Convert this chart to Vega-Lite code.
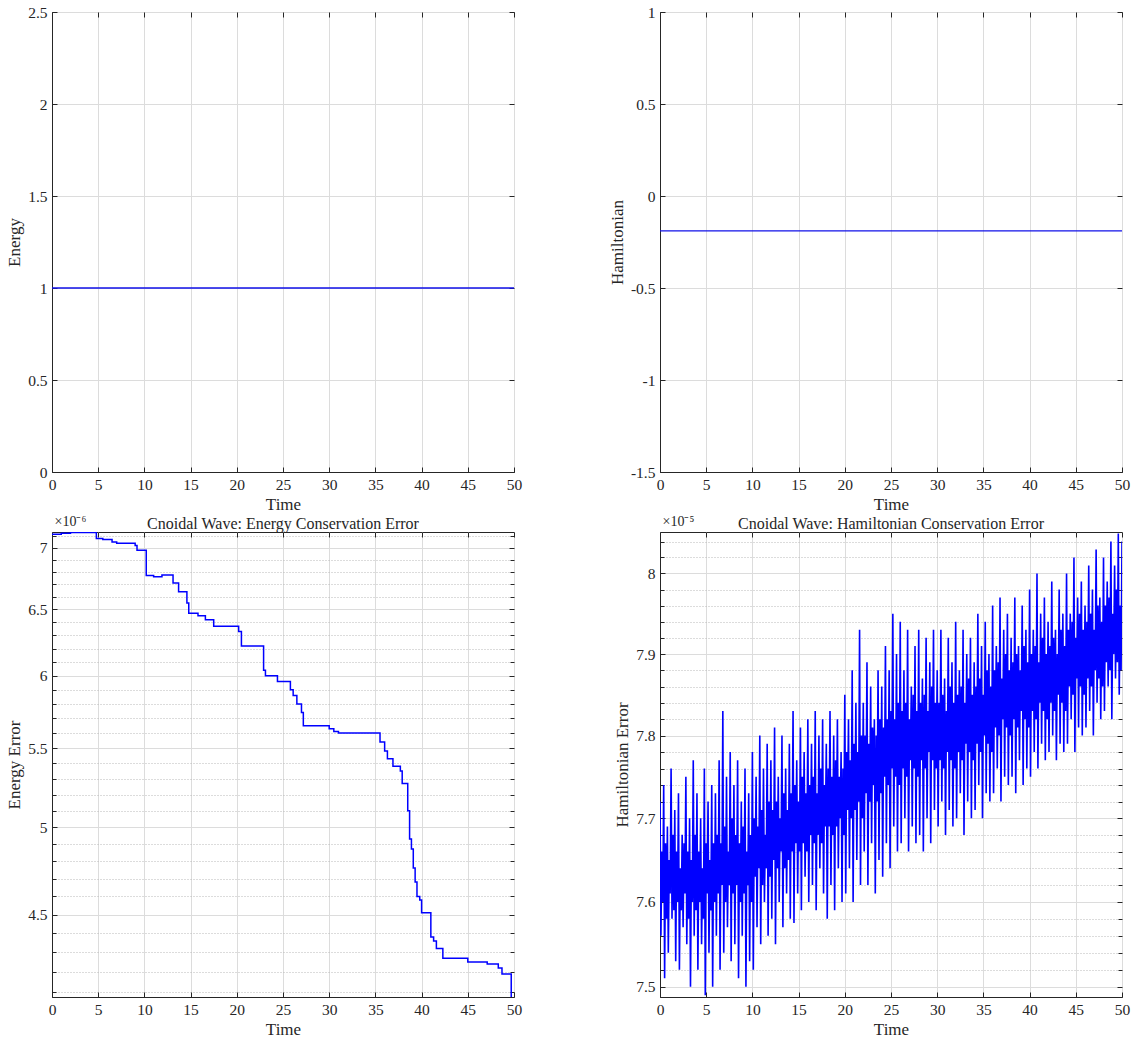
{
"$schema":"https://vega.github.io/schema/vega-lite/v6.json",
"padding":{"left":5,"top":4,"right":5,"bottom":5},
"config":{
 "font":"Liberation Serif",
 "view":{"stroke":"#262626","strokeWidth":1},
 "title":{"font":"Liberation Serif","fontSize":16,"fontWeight":"normal","color":"#262626","anchor":"middle","frame":"group","offset":-18},
 "axis":{"labelFont":"Liberation Serif","titleFont":"Liberation Serif","labelFontSize":15.5,"titleFontSize":17,"titleFontWeight":"normal","labelColor":"#262626","titleColor":"#262626","domainColor":"#262626","tickColor":"#262626","gridColor":"#dcdcdc","gridWidth":1,"tickSize":-5,"labelPadding":10,"titlePadding":4,"labelFlush":false,"labelOverlap":false}
},
"columns":2,
"spacing":{"row":60,"column":146},
"bounds":"flush",
"concat":[
{
 "width":462,"height":460,
 "data":{"values":[{"t":0,"E":1.0000071},{"t":5,"E":1.000007},{"t":10,"E":1.0000068},{"t":15,"E":1.0000065},{"t":20,"E":1.0000063},{"t":25,"E":1.0000059},{"t":30,"E":1.0000056},{"t":35,"E":1.0000056},{"t":40,"E":1.0000045},{"t":45,"E":1.0000043},{"t":50,"E":1.0000041}]},
 "layer":[
  {"mark":{"type":"line","color":"#1010e8","strokeWidth":1.5,"clip":true},
   "encoding":{
    "x":{"field":"t","type":"quantitative","scale":{"domain":[0,50],"nice":false},"axis":{"orient":"bottom","values":[0,5,10,15,20,25,30,35,40,45,50],"title":"Time","grid":true,"format":"d"}},
    "y":{"field":"E","type":"quantitative","scale":{"domain":[0,2.5],"nice":false,"zero":false},"axis":{"orient":"left","values":[0,0.5,1,1.5,2,2.5],"title":"Energy","grid":true,"labelExpr":"format(datum.value,'~g')"}}}},
  {"mark":{"type":"line","opacity":0},
   "encoding":{
    "x":{"field":"t","type":"quantitative","scale":{"domain":[0,50],"nice":false},"axis":{"orient":"top","values":[0,5,10,15,20,25,30,35,40,45,50],"labels":false,"title":null,"grid":false,"domain":false}},
    "y":{"field":"E","type":"quantitative","scale":{"domain":[0,2.5],"nice":false,"zero":false},"axis":{"orient":"right","values":[0,0.5,1,1.5,2,2.5],"labels":false,"title":null,"grid":false,"domain":false}}}}
 ],
 "resolve":{"scale":{"x":"independent","y":"independent"},"axis":{"x":"independent","y":"independent"}}
},
{
 "width":462,"height":460,
 "data":{"values":[{"t":0,"H":-0.19},{"t":5,"H":-0.19},{"t":10,"H":-0.19},{"t":15,"H":-0.19},{"t":20,"H":-0.19},{"t":25,"H":-0.19},{"t":30,"H":-0.19},{"t":35,"H":-0.19},{"t":40,"H":-0.19},{"t":45,"H":-0.19},{"t":50,"H":-0.19}]},
 "layer":[
  {"mark":{"type":"line","color":"#1010e8","strokeWidth":1.3,"clip":true},
   "encoding":{
    "x":{"field":"t","type":"quantitative","scale":{"domain":[0,50],"nice":false},"axis":{"orient":"bottom","values":[0,5,10,15,20,25,30,35,40,45,50],"title":"Time","grid":true,"format":"d"}},
    "y":{"field":"H","type":"quantitative","scale":{"domain":[-1.5,1],"nice":false,"zero":false},"axis":{"orient":"left","values":[-1.5,-1,-0.5,0,0.5,1],"title":"Hamiltonian","grid":true,"labelExpr":"replace(format(datum.value,'~g'),'−','-')"}}}},
  {"mark":{"type":"line","opacity":0},
   "encoding":{
    "x":{"field":"t","type":"quantitative","scale":{"domain":[0,50],"nice":false},"axis":{"orient":"top","values":[0,5,10,15,20,25,30,35,40,45,50],"labels":false,"title":null,"grid":false,"domain":false}},
    "y":{"field":"H","type":"quantitative","scale":{"domain":[-1.5,1],"nice":false,"zero":false},"axis":{"orient":"right","values":[-1.5,-1,-0.5,0,0.5,1],"labels":false,"title":null,"grid":false,"domain":false}}}}
 ],
 "resolve":{"scale":{"x":"independent","y":"independent"},"axis":{"x":"independent","y":"independent"}}
},
{
 "width":462,"height":465,
 "title":"Cnoidal Wave: Energy Conservation Error",
 "data":{"values":[
  {"t":0,"e":7.115e-6},{"t":1.0,"e":7.125e-6},{"t":2.0,"e":7.13e-6},{"t":4.8,"e":7.08e-6},{"t":5.5,"e":7.07e-6},{"t":6.5,"e":7.05e-6},{"t":7.0,"e":7.04e-6},{"t":9.0,"e":7.02e-6},{"t":9.2,"e":6.98e-6},{"t":10.2,"e":6.77e-6},{"t":11.0,"e":6.76e-6},{"t":11.9,"e":6.775e-6},{"t":13.1,"e":6.71e-6},{"t":13.7,"e":6.64e-6},{"t":14.6,"e":6.55e-6},{"t":14.8,"e":6.47e-6},{"t":15.8,"e":6.45e-6},{"t":16.6,"e":6.42e-6},{"t":17.5,"e":6.37e-6},{"t":20.2,"e":6.33e-6},{"t":20.5,"e":6.22e-6},{"t":22.9,"e":6.04e-6},{"t":23.1,"e":6.0e-6},{"t":24.4,"e":5.96e-6},{"t":25.8,"e":5.9e-6},{"t":26.1,"e":5.86e-6},{"t":26.5,"e":5.8e-6},{"t":27.0,"e":5.74e-6},{"t":27.2,"e":5.65e-6},{"t":30.0,"e":5.63e-6},{"t":30.5,"e":5.61e-6},{"t":31.0,"e":5.6e-6},{"t":35.5,"e":5.54e-6},{"t":36.0,"e":5.48e-6},{"t":36.3,"e":5.43e-6},{"t":36.9,"e":5.38e-6},{"t":37.7,"e":5.35e-6},{"t":37.9,"e":5.27e-6},{"t":38.5,"e":5.1e-6},{"t":38.7,"e":4.93e-6},{"t":38.9,"e":4.87e-6},{"t":39.1,"e":4.76e-6},{"t":39.3,"e":4.68e-6},{"t":39.5,"e":4.6e-6},{"t":39.8,"e":4.58e-6},{"t":40.0,"e":4.51e-6},{"t":41.0,"e":4.38e-6},{"t":41.3,"e":4.36e-6},{"t":41.6,"e":4.32e-6},{"t":42.3,"e":4.27e-6},{"t":45.0,"e":4.25e-6},{"t":47.1,"e":4.24e-6},{"t":48.3,"e":4.22e-6},{"t":48.7,"e":4.19e-6},{"t":49.7,"e":4.07e-6},{"t":50,"e":4.07e-6}
 ]},
 "layer":[
  {"mark":{"type":"line","color":"#0000ff","strokeWidth":1.5,"interpolate":"step-after","clip":true},
   "encoding":{
    "x":{"field":"t","type":"quantitative","scale":{"domain":[0,50],"nice":false},"axis":{"orient":"bottom","values":[0,5,10,15,20,25,30,35,40,45,50],"title":"Time","grid":true,"format":"d"}},
    "y":{"field":"e","type":"quantitative","scale":{"type":"log","domain":[4.075e-6,7.135e-6],"nice":false},"axis":{"orient":"left","values":[4.5e-6,5e-6,5.5e-6,6e-6,6.5e-6,7e-6],"title":"Energy Error","grid":true,"labelExpr":"format(datum.value*1e6,'.2~f')"}}}},
  {"mark":{"type":"line","opacity":0},
   "encoding":{
    "x":{"field":"t","type":"quantitative","scale":{"domain":[0,50],"nice":false},"axis":{"orient":"top","values":[0,5,10,15,20,25,30,35,40,45,50],"labels":false,"title":null,"grid":false,"domain":false}},
    "y":{"field":"e","type":"quantitative","scale":{"type":"log","domain":[4.075e-6,7.135e-6],"nice":false},"axis":{"orient":"right","values":[4.5e-6,5e-6,5.5e-6,6e-6,6.5e-6,7e-6],"labels":false,"title":null,"grid":false,"domain":false}}}},
  {"mark":{"type":"line","opacity":0},
   "encoding":{
    "x":{"field":"t","type":"quantitative","scale":{"domain":[0,50],"nice":false},"axis":null},
    "y":{"field":"e","type":"quantitative","scale":{"type":"log","domain":[4.075e-6,7.135e-6],"nice":false},"axis":{"orient":"left","values":[4.1e-6,4.2e-6,4.3e-6,4.4e-6,4.6e-6,4.7e-6,4.8e-6,4.9e-6,5.1e-6,5.2e-6,5.3e-6,5.4e-6,5.6e-6,5.7e-6,5.8e-6,5.9e-6,6.1e-6,6.2e-6,6.3e-6,6.4e-6,6.6e-6,6.7e-6,6.8e-6,6.9e-6,7.1e-6],"labels":false,"domain":false,"tickSize":-4,"grid":true,"gridDash":[1,2],"gridColor":"#b8b8b8","title":"×10⁻⁶","titleAngle":0,"titleX":2,"titleY":-7,"titleAlign":"left","titleBaseline":"alphabetic","titleFontSize":14}}}},
  {"mark":{"type":"line","opacity":0},
   "encoding":{
    "x":{"field":"t","type":"quantitative","scale":{"domain":[0,50],"nice":false},"axis":null},
    "y":{"field":"e","type":"quantitative","scale":{"type":"log","domain":[4.075e-6,7.135e-6],"nice":false},"axis":{"orient":"right","values":[4.1e-6,4.2e-6,4.3e-6,4.4e-6,4.6e-6,4.7e-6,4.8e-6,4.9e-6,5.1e-6,5.2e-6,5.3e-6,5.4e-6,5.6e-6,5.7e-6,5.8e-6,5.9e-6,6.1e-6,6.2e-6,6.3e-6,6.4e-6,6.6e-6,6.7e-6,6.8e-6,6.9e-6,7.1e-6],"labels":false,"domain":false,"tickSize":-4,"grid":false,"title":null}}}}
 ],
 "resolve":{"scale":{"x":"independent","y":"independent"},"axis":{"x":"independent","y":"independent"}}
},
{
 "width":462,"height":465,
 "title":"Cnoidal Wave: Hamiltonian Conservation Error",
 "data":{"values":[
{"t":0,"h":7.72e-5},{"t":0.1,"h":7.56e-5},{"t":0.2,"h":7.66e-5},{"t":0.3,"h":7.60e-5},
{"t":0.4,"h":7.74e-5},{"t":0.5,"h":7.51e-5},{"t":0.6,"h":7.67e-5},{"t":0.7,"h":7.58e-5},
{"t":0.8,"h":7.69e-5},{"t":0.9,"h":7.54e-5},{"t":1.0,"h":7.65e-5},{"t":1.1,"h":7.61e-5},
{"t":1.2,"h":7.76e-5},{"t":1.3,"h":7.58e-5},{"t":1.4,"h":7.68e-5},{"t":1.5,"h":7.59e-5},
{"t":1.6,"h":7.71e-5},{"t":1.7,"h":7.53e-5},{"t":1.8,"h":7.66e-5},{"t":1.9,"h":7.60e-5},
{"t":2.0,"h":7.73e-5},{"t":2.1,"h":7.52e-5},{"t":2.2,"h":7.64e-5},{"t":2.3,"h":7.59e-5},
{"t":2.4,"h":7.68e-5},{"t":2.5,"h":7.57e-5},{"t":2.6,"h":7.67e-5},{"t":2.7,"h":7.61e-5},
{"t":2.8,"h":7.75e-5},{"t":2.9,"h":7.55e-5},{"t":3.0,"h":7.66e-5},{"t":3.1,"h":7.58e-5},
{"t":3.2,"h":7.70e-5},{"t":3.3,"h":7.50e-5},{"t":3.4,"h":7.65e-5},{"t":3.5,"h":7.60e-5},
{"t":3.6,"h":7.77e-5},{"t":3.7,"h":7.56e-5},{"t":3.8,"h":7.68e-5},{"t":3.9,"h":7.59e-5},
{"t":4.0,"h":7.73e-5},{"t":4.1,"h":7.52e-5},{"t":4.2,"h":7.66e-5},{"t":4.3,"h":7.60e-5},
{"t":4.4,"h":7.70e-5},{"t":4.5,"h":7.55e-5},{"t":4.6,"h":7.64e-5},{"t":4.7,"h":7.58e-5},
{"t":4.8,"h":7.76e-5},{"t":4.9,"h":7.49e-5},{"t":5.0,"h":7.67e-5},{"t":5.1,"h":7.61e-5},
{"t":5.2,"h":7.72e-5},{"t":5.3,"h":7.54e-5},{"t":5.4,"h":7.65e-5},{"t":5.5,"h":7.59e-5},
{"t":5.6,"h":7.74e-5},{"t":5.7,"h":7.50e-5},{"t":5.8,"h":7.67e-5},{"t":5.9,"h":7.60e-5},
{"t":6.0,"h":7.73e-5},{"t":6.1,"h":7.56e-5},{"t":6.2,"h":7.68e-5},{"t":6.3,"h":7.61e-5},
{"t":6.4,"h":7.77e-5},{"t":6.5,"h":7.52e-5},{"t":6.6,"h":7.67e-5},{"t":6.7,"h":7.62e-5},
{"t":6.8,"h":7.83e-5},{"t":6.9,"h":7.54e-5},{"t":7.0,"h":7.69e-5},{"t":7.1,"h":7.60e-5},
{"t":7.2,"h":7.75e-5},{"t":7.3,"h":7.57e-5},{"t":7.4,"h":7.66e-5},{"t":7.5,"h":7.62e-5},
{"t":7.6,"h":7.78e-5},{"t":7.7,"h":7.53e-5},{"t":7.8,"h":7.70e-5},{"t":7.9,"h":7.61e-5},
{"t":8.0,"h":7.74e-5},{"t":8.1,"h":7.55e-5},{"t":8.2,"h":7.68e-5},{"t":8.3,"h":7.62e-5},
{"t":8.4,"h":7.77e-5},{"t":8.5,"h":7.51e-5},{"t":8.6,"h":7.67e-5},{"t":8.7,"h":7.60e-5},
{"t":8.8,"h":7.72e-5},{"t":8.9,"h":7.56e-5},{"t":9.0,"h":7.69e-5},{"t":9.1,"h":7.61e-5},
{"t":9.2,"h":7.76e-5},{"t":9.3,"h":7.50e-5},{"t":9.4,"h":7.66e-5},{"t":9.5,"h":7.62e-5},
{"t":9.6,"h":7.73e-5},{"t":9.7,"h":7.53e-5},{"t":9.8,"h":7.68e-5},{"t":9.9,"h":7.60e-5},
{"t":10.0,"h":7.78e-5},{"t":10.1,"h":7.52e-5},{"t":10.2,"h":7.70e-5},{"t":10.3,"h":7.63e-5},
{"t":10.4,"h":7.75e-5},{"t":10.5,"h":7.57e-5},{"t":10.6,"h":7.69e-5},{"t":10.7,"h":7.64e-5},
{"t":10.8,"h":7.80e-5},{"t":10.9,"h":7.55e-5},{"t":11.0,"h":7.71e-5},{"t":11.1,"h":7.62e-5},
{"t":11.2,"h":7.76e-5},{"t":11.3,"h":7.60e-5},{"t":11.4,"h":7.68e-5},{"t":11.5,"h":7.64e-5},
{"t":11.6,"h":7.79e-5},{"t":11.7,"h":7.56e-5},{"t":11.8,"h":7.72e-5},{"t":11.9,"h":7.63e-5},
{"t":12.0,"h":7.77e-5},{"t":12.1,"h":7.58e-5},{"t":12.2,"h":7.71e-5},{"t":12.3,"h":7.65e-5},
{"t":12.4,"h":7.81e-5},{"t":12.5,"h":7.55e-5},{"t":12.6,"h":7.72e-5},{"t":12.7,"h":7.64e-5},
{"t":12.8,"h":7.75e-5},{"t":12.9,"h":7.60e-5},{"t":13.0,"h":7.70e-5},{"t":13.1,"h":7.66e-5},
{"t":13.2,"h":7.80e-5},{"t":13.3,"h":7.57e-5},{"t":13.4,"h":7.73e-5},{"t":13.5,"h":7.64e-5},
{"t":13.6,"h":7.76e-5},{"t":13.7,"h":7.61e-5},{"t":13.8,"h":7.71e-5},{"t":13.9,"h":7.65e-5},
{"t":14.0,"h":7.79e-5},{"t":14.1,"h":7.58e-5},{"t":14.2,"h":7.73e-5},{"t":14.3,"h":7.66e-5},
{"t":14.4,"h":7.83e-5},{"t":14.5,"h":7.575e-5},{"t":14.6,"h":7.74e-5},{"t":14.7,"h":7.67e-5},
{"t":14.8,"h":7.77e-5},{"t":14.9,"h":7.61e-5},{"t":15.0,"h":7.72e-5},{"t":15.1,"h":7.66e-5},
{"t":15.2,"h":7.81e-5},{"t":15.3,"h":7.59e-5},{"t":15.4,"h":7.75e-5},{"t":15.5,"h":7.67e-5},
{"t":15.6,"h":7.78e-5},{"t":15.7,"h":7.63e-5},{"t":15.8,"h":7.73e-5},{"t":15.9,"h":7.66e-5},
{"t":16.0,"h":7.82e-5},{"t":16.1,"h":7.60e-5},{"t":16.2,"h":7.74e-5},{"t":16.3,"h":7.68e-5},
{"t":16.4,"h":7.79e-5},{"t":16.5,"h":7.62e-5},{"t":16.6,"h":7.75e-5},{"t":16.7,"h":7.67e-5},
{"t":16.8,"h":7.83e-5},{"t":16.9,"h":7.59e-5},{"t":17.0,"h":7.73e-5},{"t":17.1,"h":7.68e-5},
{"t":17.2,"h":7.80e-5},{"t":17.3,"h":7.64e-5},{"t":17.4,"h":7.76e-5},{"t":17.5,"h":7.67e-5},
{"t":17.6,"h":7.82e-5},{"t":17.7,"h":7.61e-5},{"t":17.8,"h":7.74e-5},{"t":17.9,"h":7.69e-5},
{"t":18.0,"h":7.79e-5},{"t":18.1,"h":7.58e-5},{"t":18.2,"h":7.76e-5},{"t":18.3,"h":7.69e-5},
{"t":18.4,"h":7.83e-5},{"t":18.5,"h":7.62e-5},{"t":18.6,"h":7.75e-5},{"t":18.7,"h":7.68e-5},
{"t":18.8,"h":7.80e-5},{"t":18.9,"h":7.59e-5},{"t":19.0,"h":7.77e-5},{"t":19.1,"h":7.69e-5},
{"t":19.2,"h":7.82e-5},{"t":19.3,"h":7.64e-5},{"t":19.4,"h":7.75e-5},{"t":19.5,"h":7.70e-5},
{"t":19.6,"h":7.78e-5},{"t":19.7,"h":7.60e-5},{"t":19.8,"h":7.76e-5},{"t":19.9,"h":7.68e-5},
{"t":20.0,"h":7.85e-5},{"t":20.1,"h":7.61e-5},{"t":20.2,"h":7.78e-5},{"t":20.3,"h":7.71e-5},
{"t":20.4,"h":7.82e-5},{"t":20.5,"h":7.64e-5},{"t":20.6,"h":7.77e-5},{"t":20.7,"h":7.70e-5},
{"t":20.8,"h":7.88e-5},{"t":20.9,"h":7.60e-5},{"t":21.0,"h":7.79e-5},{"t":21.1,"h":7.71e-5},
{"t":21.2,"h":7.84e-5},{"t":21.3,"h":7.65e-5},{"t":21.4,"h":7.78e-5},{"t":21.5,"h":7.72e-5},
{"t":21.6,"h":7.93e-5},{"t":21.7,"h":7.62e-5},{"t":21.8,"h":7.80e-5},{"t":21.9,"h":7.70e-5},
{"t":22.0,"h":7.84e-5},{"t":22.1,"h":7.66e-5},{"t":22.2,"h":7.80e-5},{"t":22.3,"h":7.73e-5},
{"t":22.4,"h":7.89e-5},{"t":22.5,"h":7.62e-5},{"t":22.6,"h":7.79e-5},{"t":22.7,"h":7.72e-5},
{"t":22.8,"h":7.86e-5},{"t":22.9,"h":7.67e-5},{"t":23.0,"h":7.81e-5},{"t":23.1,"h":7.74e-5},
{"t":23.2,"h":7.82e-5},{"t":23.3,"h":7.61e-5},{"t":23.4,"h":7.80e-5},{"t":23.5,"h":7.72e-5},
{"t":23.6,"h":7.88e-5},{"t":23.7,"h":7.65e-5},{"t":23.8,"h":7.82e-5},{"t":23.9,"h":7.73e-5},
{"t":24.0,"h":7.86e-5},{"t":24.1,"h":7.63e-5},{"t":24.2,"h":7.81e-5},{"t":24.3,"h":7.75e-5},
{"t":24.4,"h":7.91e-5},{"t":24.5,"h":7.67e-5},{"t":24.6,"h":7.82e-5},{"t":24.7,"h":7.74e-5},
{"t":24.8,"h":7.88e-5},{"t":24.9,"h":7.64e-5},{"t":25.0,"h":7.83e-5},{"t":25.1,"h":7.76e-5},
{"t":25.2,"h":7.95e-5},{"t":25.3,"h":7.69e-5},{"t":25.4,"h":7.82e-5},{"t":25.5,"h":7.75e-5},
{"t":25.6,"h":7.90e-5},{"t":25.7,"h":7.66e-5},{"t":25.8,"h":7.84e-5},{"t":25.9,"h":7.74e-5},
{"t":26.0,"h":7.94e-5},{"t":26.1,"h":7.67e-5},{"t":26.2,"h":7.83e-5},{"t":26.3,"h":7.76e-5},
{"t":26.4,"h":7.88e-5},{"t":26.5,"h":7.70e-5},{"t":26.6,"h":7.84e-5},{"t":26.7,"h":7.75e-5},
{"t":26.8,"h":7.93e-5},{"t":26.9,"h":7.66e-5},{"t":27.0,"h":7.82e-5},{"t":27.1,"h":7.77e-5},
{"t":27.2,"h":7.86e-5},{"t":27.3,"h":7.69e-5},{"t":27.4,"h":7.85e-5},{"t":27.5,"h":7.76e-5},
{"t":27.6,"h":7.91e-5},{"t":27.7,"h":7.67e-5},{"t":27.8,"h":7.83e-5},{"t":27.9,"h":7.75e-5},
{"t":28.0,"h":7.93e-5},{"t":28.1,"h":7.68e-5},{"t":28.2,"h":7.84e-5},{"t":28.3,"h":7.77e-5},
{"t":28.4,"h":7.87e-5},{"t":28.5,"h":7.66e-5},{"t":28.6,"h":7.85e-5},{"t":28.7,"h":7.76e-5},
{"t":28.8,"h":7.92e-5},{"t":28.9,"h":7.70e-5},{"t":29.0,"h":7.83e-5},{"t":29.1,"h":7.78e-5},
{"t":29.2,"h":7.89e-5},{"t":29.3,"h":7.67e-5},{"t":29.4,"h":7.86e-5},{"t":29.5,"h":7.77e-5},
{"t":29.6,"h":7.93e-5},{"t":29.7,"h":7.71e-5},{"t":29.8,"h":7.84e-5},{"t":29.9,"h":7.76e-5},
{"t":30.0,"h":7.88e-5},{"t":30.1,"h":7.69e-5},{"t":30.2,"h":7.84e-5},{"t":30.3,"h":7.77e-5},
{"t":30.4,"h":7.93e-5},{"t":30.5,"h":7.72e-5},{"t":30.6,"h":7.85e-5},{"t":30.7,"h":7.76e-5},
{"t":30.8,"h":7.87e-5},{"t":30.9,"h":7.68e-5},{"t":31.0,"h":7.83e-5},{"t":31.1,"h":7.78e-5},
{"t":31.2,"h":7.92e-5},{"t":31.3,"h":7.71e-5},{"t":31.4,"h":7.86e-5},{"t":31.5,"h":7.77e-5},
{"t":31.6,"h":7.89e-5},{"t":31.7,"h":7.69e-5},{"t":31.8,"h":7.84e-5},{"t":31.9,"h":7.76e-5},
{"t":32.0,"h":7.94e-5},{"t":32.1,"h":7.70e-5},{"t":32.2,"h":7.85e-5},{"t":32.3,"h":7.78e-5},
{"t":32.4,"h":7.88e-5},{"t":32.5,"h":7.73e-5},{"t":32.6,"h":7.86e-5},{"t":32.7,"h":7.77e-5},
{"t":32.8,"h":7.93e-5},{"t":32.9,"h":7.68e-5},{"t":33.0,"h":7.84e-5},{"t":33.1,"h":7.79e-5},
{"t":33.2,"h":7.90e-5},{"t":33.3,"h":7.72e-5},{"t":33.4,"h":7.87e-5},{"t":33.5,"h":7.78e-5},
{"t":33.6,"h":7.92e-5},{"t":33.7,"h":7.70e-5},{"t":33.8,"h":7.85e-5},{"t":33.9,"h":7.77e-5},
{"t":34.0,"h":7.89e-5},{"t":34.1,"h":7.71e-5},{"t":34.2,"h":7.86e-5},{"t":34.3,"h":7.79e-5},
{"t":34.4,"h":7.95e-5},{"t":34.5,"h":7.74e-5},{"t":34.6,"h":7.87e-5},{"t":34.7,"h":7.78e-5},
{"t":34.8,"h":7.91e-5},{"t":34.9,"h":7.70e-5},{"t":35.0,"h":7.85e-5},{"t":35.1,"h":7.80e-5},
{"t":35.2,"h":7.94e-5},{"t":35.3,"h":7.73e-5},{"t":35.4,"h":7.88e-5},{"t":35.5,"h":7.79e-5},
{"t":35.6,"h":7.90e-5},{"t":35.7,"h":7.72e-5},{"t":35.8,"h":7.86e-5},{"t":35.9,"h":7.78e-5},
{"t":36.0,"h":7.96e-5},{"t":36.1,"h":7.73e-5},{"t":36.2,"h":7.88e-5},{"t":36.3,"h":7.81e-5},
{"t":36.4,"h":7.91e-5},{"t":36.5,"h":7.76e-5},{"t":36.6,"h":7.89e-5},{"t":36.7,"h":7.80e-5},
{"t":36.8,"h":7.97e-5},{"t":36.9,"h":7.72e-5},{"t":37.0,"h":7.87e-5},{"t":37.1,"h":7.82e-5},
{"t":37.2,"h":7.93e-5},{"t":37.3,"h":7.75e-5},{"t":37.4,"h":7.90e-5},{"t":37.5,"h":7.81e-5},
{"t":37.6,"h":7.95e-5},{"t":37.7,"h":7.74e-5},{"t":37.8,"h":7.88e-5},{"t":37.9,"h":7.80e-5},
{"t":38.0,"h":7.92e-5},{"t":38.1,"h":7.75e-5},{"t":38.2,"h":7.89e-5},{"t":38.3,"h":7.82e-5},
{"t":38.4,"h":7.97e-5},{"t":38.5,"h":7.73e-5},{"t":38.6,"h":7.90e-5},{"t":38.7,"h":7.81e-5},
{"t":38.8,"h":7.91e-5},{"t":38.9,"h":7.77e-5},{"t":39.0,"h":7.88e-5},{"t":39.1,"h":7.83e-5},
{"t":39.2,"h":7.96e-5},{"t":39.3,"h":7.74e-5},{"t":39.4,"h":7.91e-5},{"t":39.5,"h":7.82e-5},
{"t":39.6,"h":7.93e-5},{"t":39.7,"h":7.76e-5},{"t":39.8,"h":7.89e-5},{"t":39.9,"h":7.81e-5},
{"t":40.0,"h":7.98e-5},{"t":40.1,"h":7.75e-5},{"t":40.2,"h":7.90e-5},{"t":40.3,"h":7.83e-5},
{"t":40.4,"h":7.93e-5},{"t":40.5,"h":7.78e-5},{"t":40.6,"h":7.91e-5},{"t":40.7,"h":7.82e-5},
{"t":40.8,"h":8.00e-5},{"t":40.9,"h":7.76e-5},{"t":41.0,"h":7.89e-5},{"t":41.1,"h":7.84e-5},
{"t":41.2,"h":7.95e-5},{"t":41.3,"h":7.79e-5},{"t":41.4,"h":7.92e-5},{"t":41.5,"h":7.83e-5},
{"t":41.6,"h":7.97e-5},{"t":41.7,"h":7.77e-5},{"t":41.8,"h":7.90e-5},{"t":41.9,"h":7.82e-5},
{"t":42.0,"h":7.94e-5},{"t":42.1,"h":7.78e-5},{"t":42.2,"h":7.91e-5},{"t":42.3,"h":7.84e-5},
{"t":42.4,"h":7.99e-5},{"t":42.5,"h":7.80e-5},{"t":42.6,"h":7.92e-5},{"t":42.7,"h":7.83e-5},
{"t":42.8,"h":7.93e-5},{"t":42.9,"h":7.77e-5},{"t":43.0,"h":7.90e-5},{"t":43.1,"h":7.85e-5},
{"t":43.2,"h":7.98e-5},{"t":43.3,"h":7.79e-5},{"t":43.4,"h":7.93e-5},{"t":43.5,"h":7.84e-5},
{"t":43.6,"h":7.95e-5},{"t":43.7,"h":7.78e-5},{"t":43.8,"h":7.91e-5},{"t":43.9,"h":7.83e-5},
{"t":44.0,"h":8.00e-5},{"t":44.1,"h":7.79e-5},{"t":44.2,"h":7.93e-5},{"t":44.3,"h":7.86e-5},
{"t":44.4,"h":7.95e-5},{"t":44.5,"h":7.82e-5},{"t":44.6,"h":7.94e-5},{"t":44.7,"h":7.85e-5},
{"t":44.8,"h":8.02e-5},{"t":44.9,"h":7.78e-5},{"t":45.0,"h":7.92e-5},{"t":45.1,"h":7.87e-5},
{"t":45.2,"h":7.97e-5},{"t":45.3,"h":7.81e-5},{"t":45.4,"h":7.95e-5},{"t":45.5,"h":7.86e-5},
{"t":45.6,"h":7.99e-5},{"t":45.7,"h":7.80e-5},{"t":45.8,"h":7.93e-5},{"t":45.9,"h":7.85e-5},
{"t":46.0,"h":7.96e-5},{"t":46.1,"h":7.81e-5},{"t":46.2,"h":7.94e-5},{"t":46.3,"h":7.87e-5},
{"t":46.4,"h":8.01e-5},{"t":46.5,"h":7.83e-5},{"t":46.6,"h":7.95e-5},{"t":46.7,"h":7.86e-5},
{"t":46.8,"h":7.98e-5},{"t":46.9,"h":7.80e-5},{"t":47.0,"h":7.93e-5},{"t":47.1,"h":7.88e-5},
{"t":47.2,"h":8.03e-5},{"t":47.3,"h":7.84e-5},{"t":47.4,"h":7.96e-5},{"t":47.5,"h":7.87e-5},
{"t":47.6,"h":7.97e-5},{"t":47.7,"h":7.82e-5},{"t":47.8,"h":7.94e-5},{"t":47.9,"h":7.86e-5},
{"t":48.0,"h":8.02e-5},{"t":48.1,"h":7.83e-5},{"t":48.2,"h":7.96e-5},{"t":48.3,"h":7.89e-5},
{"t":48.4,"h":7.99e-5},{"t":48.5,"h":7.86e-5},{"t":48.6,"h":7.97e-5},{"t":48.7,"h":7.88e-5},
{"t":48.8,"h":8.04e-5},{"t":48.9,"h":7.82e-5},{"t":49.0,"h":7.95e-5},{"t":49.1,"h":7.90e-5},
{"t":49.2,"h":8.01e-5},{"t":49.3,"h":7.87e-5},{"t":49.4,"h":7.98e-5},{"t":49.5,"h":7.89e-5},
{"t":49.6,"h":8.05e-5},{"t":49.7,"h":7.85e-5},{"t":49.8,"h":7.96e-5},{"t":49.9,"h":7.88e-5},
{"t":50.0,"h":8.04e-5}
 ]},
 "layer":[
  {"mark":{"type":"line","color":"#0000ff","strokeWidth":1.6,"clip":true},
   "encoding":{
    "x":{"field":"t","type":"quantitative","scale":{"domain":[0,50],"nice":false},"axis":{"orient":"bottom","values":[0,5,10,15,20,25,30,35,40,45,50],"title":"Time","grid":true,"format":"d"}},
    "y":{"field":"h","type":"quantitative","scale":{"type":"log","domain":[7.488e-5,8.052e-5],"nice":false},"axis":{"orient":"left","values":[7.5e-5,7.6e-5,7.7e-5,7.8e-5,7.9e-5,8e-5],"title":"Hamiltonian Error","grid":true,"labelExpr":"format(datum.value*1e5,'.2~f')"}}}},
  {"mark":{"type":"line","opacity":0},
   "encoding":{
    "x":{"field":"t","type":"quantitative","scale":{"domain":[0,50],"nice":false},"axis":{"orient":"top","values":[0,5,10,15,20,25,30,35,40,45,50],"labels":false,"title":null,"grid":false,"domain":false}},
    "y":{"field":"h","type":"quantitative","scale":{"type":"log","domain":[7.488e-5,8.052e-5],"nice":false},"axis":{"orient":"right","values":[7.5e-5,7.6e-5,7.7e-5,7.8e-5,7.9e-5,8e-5],"labels":false,"title":null,"grid":false,"domain":false}}}},
  {"mark":{"type":"line","opacity":0},
   "encoding":{
    "x":{"field":"t","type":"quantitative","scale":{"domain":[0,50],"nice":false},"axis":null},
    "y":{"field":"h","type":"quantitative","scale":{"type":"log","domain":[7.488e-5,8.052e-5],"nice":false},"axis":{"orient":"left","values":[7.52e-5,7.54e-5,7.56e-5,7.58e-5,7.62e-5,7.64e-5,7.66e-5,7.68e-5,7.72e-5,7.74e-5,7.76e-5,7.78e-5,7.82e-5,7.84e-5,7.86e-5,7.88e-5,7.92e-5,7.94e-5,7.96e-5,7.98e-5,8.02e-5,8.04e-5],"labels":false,"domain":false,"tickSize":-4,"grid":true,"gridDash":[1,2],"gridColor":"#b8b8b8","title":"×10⁻⁵","titleAngle":0,"titleX":2,"titleY":-7,"titleAlign":"left","titleBaseline":"alphabetic","titleFontSize":14}}}},
  {"mark":{"type":"line","opacity":0},
   "encoding":{
    "x":{"field":"t","type":"quantitative","scale":{"domain":[0,50],"nice":false},"axis":null},
    "y":{"field":"h","type":"quantitative","scale":{"type":"log","domain":[7.488e-5,8.052e-5],"nice":false},"axis":{"orient":"right","values":[7.52e-5,7.54e-5,7.56e-5,7.58e-5,7.62e-5,7.64e-5,7.66e-5,7.68e-5,7.72e-5,7.74e-5,7.76e-5,7.78e-5,7.82e-5,7.84e-5,7.86e-5,7.88e-5,7.92e-5,7.94e-5,7.96e-5,7.98e-5,8.02e-5,8.04e-5],"labels":false,"domain":false,"tickSize":-4,"grid":false,"title":null}}}}
 ],
 "resolve":{"scale":{"x":"independent","y":"independent"},"axis":{"x":"independent","y":"independent"}}
}
]
}
